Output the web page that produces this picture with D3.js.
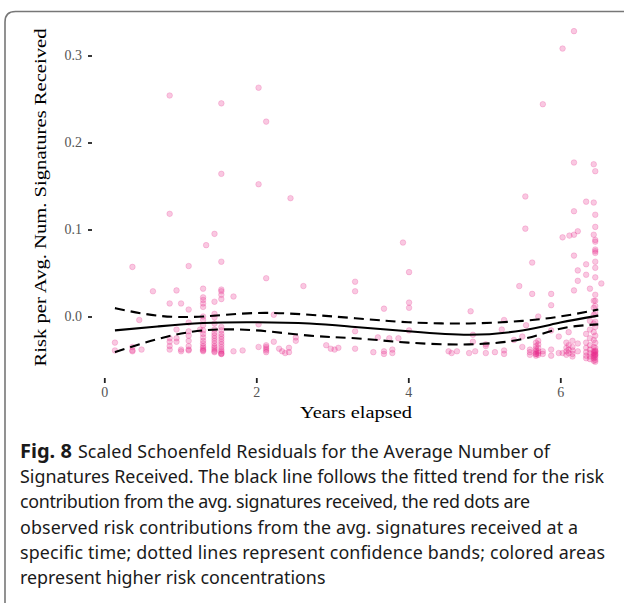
<!DOCTYPE html>
<html>
<head>
<meta charset="utf-8">
<script src="https://cdn.jsdelivr.net/npm/d3@7"></script>
<style>
  html, body { margin: 0; padding: 0; background: #fff; }
  svg { display: block; }
</style>
</head>
<body>
<svg id="chart" width="624" height="603"></svg>
<script>
// ---- data ----
const obsTime = [0.14, 0.37, 0.46, 0.49, 0.64, 0.86, 0.95, 1.01, 1.11, 1.26, 1.30, 1.34, 1.45, 1.54, 1.70, 1.82,
  2.03, 2.13, 2.23, 2.30, 2.34, 2.38, 2.43, 2.45, 2.52, 2.62, 2.92, 2.98, 3.03, 3.08, 3.30, 3.54, 3.60, 3.68, 3.75,
  3.79, 3.87, 3.93, 4.01, 4.53, 4.57, 4.64, 4.80, 4.82, 4.85, 4.88, 5.02, 5.14, 5.23, 5.26, 5.39, 5.46, 5.50, 5.54,
  5.55, 5.60, 5.63, 5.68, 5.71, 5.77, 5.88, 5.98, 6.03, 6.08, 6.11, 6.12, 6.16, 6.18, 6.23, 6.34, 6.39, 6.44, 6.46, 6.54];
const obsValues = [
  [-0.030, -0.039],
  [0.057, -0.035, -0.039, -0.040],
  [-0.004],
  [-0.038],
  [0.029],
  [0.254, 0.118, 0.015, -0.025, -0.029, -0.034, -0.038],
  [0.030, -0.015, -0.025, -0.029],
  [0.015, -0.038, -0.040],
  [0.058, 0.008, -0.007, -0.017, -0.022, -0.028, -0.034, -0.038, -0.039],
  [-0.015],
  [0.032, 0.022, 0.019, 0.015, 0.011, 0.000, -0.004, -0.010, -0.016, -0.020, -0.024, -0.028, -0.031, -0.034, -0.036, -0.038, -0.039, -0.040],
  [0.082],
  [0.095, 0.017, 0.003, -0.001, -0.008, -0.015, -0.019, -0.022, -0.025, -0.028, -0.031, -0.034, -0.036, -0.038, -0.040, -0.041],
  [0.245, 0.164, 0.063, 0.031, 0.029, 0.025, 0.020, -0.012, -0.016, -0.020, -0.023, -0.026, -0.029, -0.032, -0.035, -0.038, -0.040, -0.042, -0.043, -0.043],
  [0.023, -0.040],
  [-0.039],
  [0.263, 0.152, -0.009, -0.035],
  [0.224, 0.044, -0.033, -0.035, -0.037, -0.039, -0.041],
  [0.002, -0.029],
  [-0.037],
  [-0.040],
  [-0.042],
  [-0.036, -0.041],
  [0.136],
  [-0.024, -0.028],
  [0.035],
  [-0.033],
  [-0.037],
  [-0.038],
  [-0.036],
  [0.040, 0.029, -0.017, -0.037],
  [-0.041],
  [-0.024],
  [0.009, -0.040, -0.043],
  [-0.025],
  [-0.038, -0.042],
  [-0.025],
  [0.085],
  [0.051, 0.016, 0.010, -0.016],
  [-0.040],
  [-0.042],
  [-0.040],
  [-0.042],
  [0.006],
  [-0.021, -0.029],
  [-0.040],
  [-0.032, -0.042, -0.034],
  [-0.041],
  [-0.015],
  [-0.004, -0.039, -0.043],
  [-0.027],
  [0.035],
  [-0.023, -0.035],
  [0.138, 0.101],
  [-0.010],
  [-0.038, -0.041, -0.044],
  [0.062, 0.026],
  [-0.030, -0.034, -0.037, -0.039, -0.041, -0.043, -0.045, -0.043],
  [0.000, -0.028, -0.032, -0.036, -0.040, -0.044, -0.042],
  [0.244, -0.040, -0.043],
  [0.026, 0.013, -0.016, -0.045, -0.038],
  [-0.023, -0.042],
  [0.308, 0.091, -0.042],
  [-0.030, -0.036, -0.040, -0.044],
  [-0.018, -0.033, -0.038, -0.042],
  [0.093],
  [-0.028, -0.035, -0.039, -0.043, -0.046],
  [0.328, 0.177, 0.121, 0.094, 0.070, 0.030],
  [0.098, 0.053, 0.041, -0.031, -0.040],
  [0.132, 0.060, 0.048, -0.020, -0.030, -0.036, -0.041, -0.045, -0.048],
  [0.032, -0.005, -0.015, -0.025, -0.033, -0.038, -0.042, -0.046, -0.049],
  [0.175, 0.131, 0.094, 0.018, 0.010, 0.002, -0.008, -0.018, -0.027, -0.035, -0.040, -0.044, -0.048, -0.051, -0.042, -0.046],
  [0.167, 0.117, 0.103, 0.088, 0.086, 0.077, 0.075, 0.073, 0.063, 0.056, 0.045, 0.025, 0.018, 0.012, 0.004, -0.006, -0.012, -0.022, -0.030, -0.036, -0.039, -0.041, -0.043, -0.045, -0.047, -0.050, -0.052, -0.040, -0.044],
  [0.038]
];

const trendTime  = [0.14, 0.7, 1.3, 2.0, 2.7, 3.3, 4.0, 4.8, 5.5, 6.0, 6.5];
const trendFit   = [-0.016, -0.0115, -0.0075, -0.0066, -0.008, -0.012, -0.017, -0.021, -0.016, -0.007, 0.001];
const trendUpper = [0.0096, 0.001, 0.0, 0.004, 0.002, -0.002, -0.0066, -0.008, -0.005, 0.0, 0.008];
const trendLower = [-0.041, -0.026, -0.016, -0.016, -0.022, -0.025, -0.030, -0.032, -0.026, -0.014, -0.009];

const xTicks = [0, 2, 4, 6];
const yTicks = [0.0, 0.1, 0.2, 0.3];
const yTitle = "Risk per Avg. Num. Signatures Received";
const xTitle = "Years elapsed";
const captionBold = "Fig. 8";
const captionLines = [
  "Scaled Schoenfeld Residuals for the Average Number of",
  "Signatures Received. The black line follows the fitted trend for the risk",
  "contribution from the avg. signatures received, the red dots are",
  "observed risk contributions from the avg. signatures received at a",
  "specific time; dotted lines represent confidence bands; colored areas",
  "represent higher risk concentrations"
];

// ---- drawing ----
const svg = d3.select("#chart");
const x = d3.scaleLinear().domain([0, 6]).range([104.3, 560.3]);
const y = d3.scaleLinear().domain([0, 0.3]).range([316.5, 55.5]);

// frame
svg.append("path")
  .attr("d", "M5,603 L5,22 Q5,11.5 15.5,11.5 L624,11.5")
  .attr("fill", "none").attr("stroke", "#777").attr("stroke-width", 1.6);

const serif = "'Liberation Serif', 'DejaVu Serif', serif";
const pts = [];
obsTime.forEach((t, i) => obsValues[i].forEach(v => pts.push({t, v})));

svg.append("g").selectAll("circle").data(pts).enter().append("circle")
  .attr("cx", d => x(d.t)).attr("cy", d => y(d.v)).attr("r", 2.8)
  .attr("fill", "#E7298A").attr("fill-opacity", 0.26)
  .attr("stroke", "#E7298A").attr("stroke-opacity", 0.26).attr("stroke-width", 0.8);

const mkLine = arr => d3.line().x((d, i) => x(trendTime[i])).y(d => y(d)).curve(d3.curveNatural)(arr);
svg.append("path").attr("d", mkLine(trendFit)).attr("fill", "none").attr("stroke", "#000").attr("stroke-width", 2.1);
[trendUpper, trendLower].forEach(a => svg.append("path").attr("d", mkLine(a))
  .attr("fill", "none").attr("stroke", "#000").attr("stroke-width", 2.1).attr("stroke-dasharray", "10,6"));

// axes
const yAxis = svg.append("g").attr("transform", "translate(92,0)")
  .call(d3.axisLeft(y).tickValues(yTicks).tickFormat(d3.format(".1f")).tickSize(4).tickPadding(6));
const xAxis = svg.append("g").attr("transform", "translate(0,378)")
  .call(d3.axisBottom(x).tickValues(xTicks).tickFormat(d3.format("d")).tickSize(5).tickPadding(4));
[yAxis, xAxis].forEach(g => {
  g.select(".domain").remove();
  g.selectAll(".tick line").attr("stroke", "#222").attr("stroke-width", 1.8);
  g.selectAll(".tick text").attr("fill", "#555").style("font-family", serif).style("font-size", "14px");
});

svg.append("text").attr("x", 356).attr("y", 418).attr("text-anchor", "middle")
  .style("font-family", serif).style("font-size", "17.5px").attr("fill", "#000")
  .attr("textLength", 112).attr("lengthAdjust", "spacingAndGlyphs").text(xTitle);
svg.append("text").attr("transform", "translate(45.5,197.5) rotate(-90)").attr("text-anchor", "middle")
  .style("font-family", serif).style("font-size", "17.5px").attr("fill", "#000")
  .attr("textLength", 338).attr("lengthAdjust", "spacingAndGlyphs").text(yTitle);

// caption
const sans = "'Noto Sans', 'Open Sans', sans-serif";
const capEnds = [550, 604, 530, 578, 605, null];
const lineY = [457.7, 483.1, 508.4, 533.7, 559, 584.3];
const bold = svg.append("text").attr("x", 20).attr("y", lineY[0]).style("font-family", sans)
  .style("font-size", "20px").style("font-weight", "bold").attr("fill", "#1a1a1a").text(captionBold);
const boldEnd = 20 + bold.node().getComputedTextLength() + 6;

const capTexts = captionLines.map((s, i) => {
  const x0 = i === 0 ? boldEnd : 20;
  return svg.append("text").attr("x", x0).attr("y", lineY[i]).style("font-family", sans).style("font-size", "18px")
    .attr("fill", "#1a1a1a").text(s).datum({x0, target: capEnds[i] === null ? null : capEnds[i] - x0});
});
let sumL = 0, sumT = 0;
capTexts.slice(0, 5).forEach(t => { sumL += t.node().getComputedTextLength(); sumT += t.datum().target; });
const fs = 18 * sumT / sumL;
capTexts.forEach(t => {
  t.style("font-size", fs + "px");
  if (t.datum().target !== null) t.attr("textLength", t.datum().target).attr("lengthAdjust", "spacing");
});
</script>
</body>
</html>
